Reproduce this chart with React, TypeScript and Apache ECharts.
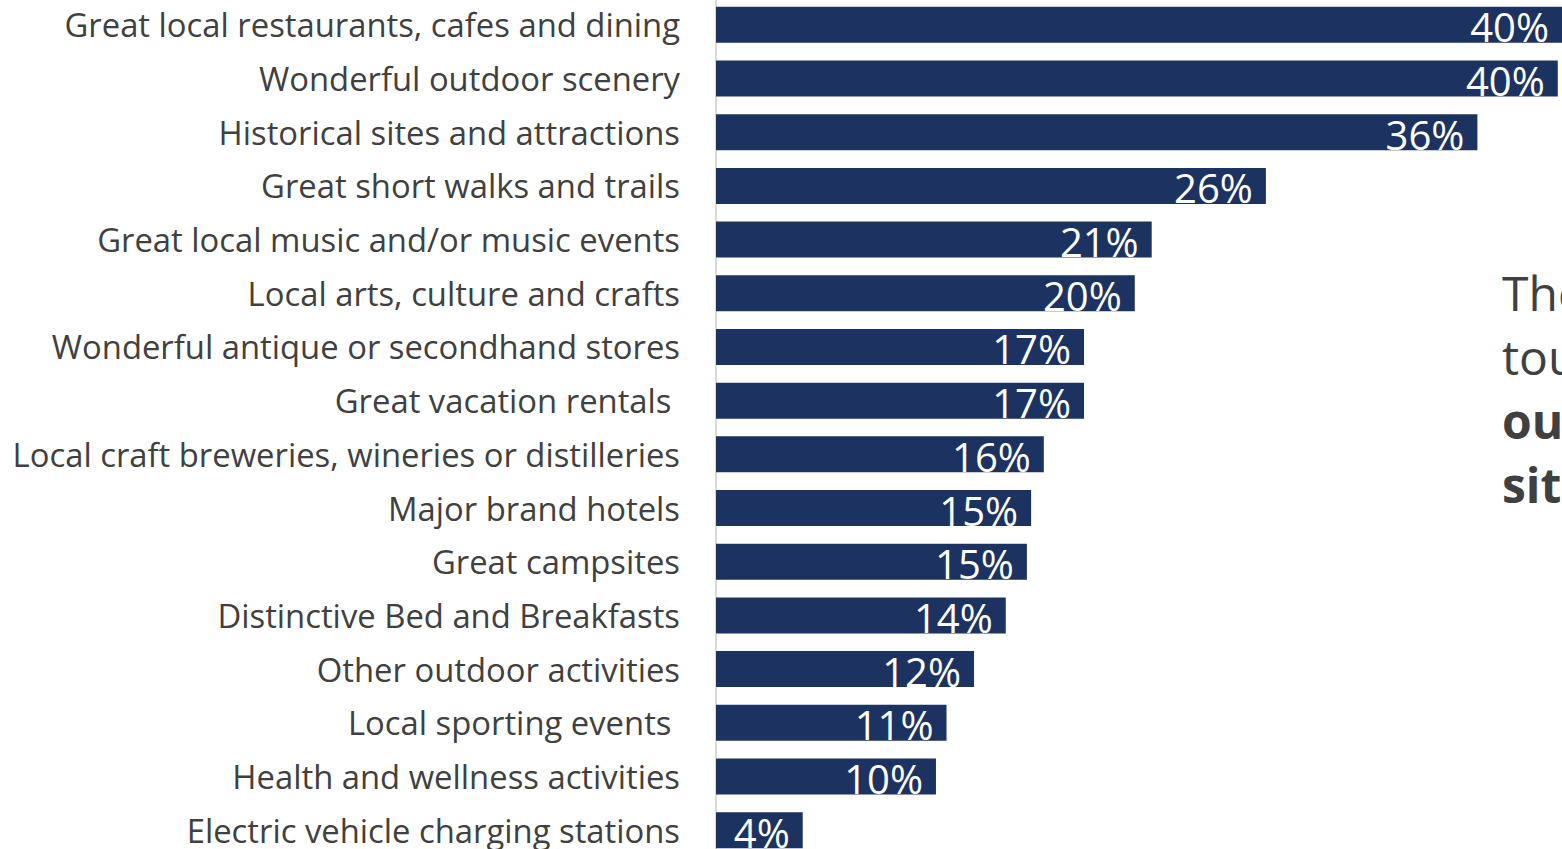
import React, { useEffect, useRef } from "react";
import * as echarts from "echarts";

const categories = [
  "Great local restaurants, cafes and dining",
  "Wonderful outdoor scenery",
  "Historical sites and attractions",
  "Great short walks and trails",
  "Great local music and/or music events",
  "Local arts, culture and crafts",
  "Wonderful antique or secondhand stores",
  "Great vacation rentals ",
  "Local craft breweries, wineries or distilleries",
  "Major brand hotels",
  "Great campsites",
  "Distinctive Bed and Breakfasts",
  "Other outdoor activities",
  "Local sporting events ",
  "Health and wellness activities",
  "Electric vehicle charging stations",
];

const values = [40.0, 39.8, 36.0, 26.0, 20.6, 19.8, 17.4, 17.4, 15.5, 14.9, 14.7, 13.7, 12.2, 10.9, 10.4, 4.1];

const sideLines = [
  { text: "The top", bold: false },
  { text: "tourism", bold: false },
  { text: "outdoor", bold: true },
  { text: "sites", bold: true },
];

export default function App() {
  const ref = useRef<HTMLDivElement>(null);
  useEffect(() => {
    if (!ref.current) return;
    const chart = echarts.init(ref.current, undefined, { renderer: "svg" });
    const font = "'Open Sans', sans-serif";
    chart.setOption({
      animation: false,
      grid: { left: 716, right: 0, top: 0, bottom: 0, containLabel: false },
      xAxis: {
        type: "value",
        min: 0,
        max: 40,
        show: false,
      },
      yAxis: {
        type: "category",
        data: categories,
        inverse: true,
        axisLine: { show: true, lineStyle: { color: "#d9d9d9", width: 2 } },
        axisTick: { show: false },
        axisLabel: {
          color: "#404040",
          fontFamily: font,
          fontSize: 32.8,
          margin: 36,
        },
      },
      series: [
        {
          type: "bar",
          data: values,
          barCategoryGap: "33%",
          itemStyle: { color: "#1c3260" },
          label: {
            show: true,
            position: "insideRight",
            distance: 13,
            offset: [0, 2],
            color: "#ffffff",
            fontFamily: font,
            fontSize: 40,
            formatter: (p: any) => Math.round(p.value) + "%",
          },
        },
      ],
      graphic: sideLines.map((l, i) => ({
        type: "text",
        left: 1502,
        top: 270 + i * 64,
        style: {
          text: l.text,
          fill: "#404040",
          font: `${l.bold ? "bold " : ""}48px 'Open Sans', sans-serif`,
        },
      })),
    });
    return () => chart.dispose();
  }, []);
  return (
    <div
      ref={ref}
      style={{ position: "fixed", left: 0, top: -2, width: 1562, height: 859, overflow: "hidden", background: "#fff" }}
    />
  );
}
